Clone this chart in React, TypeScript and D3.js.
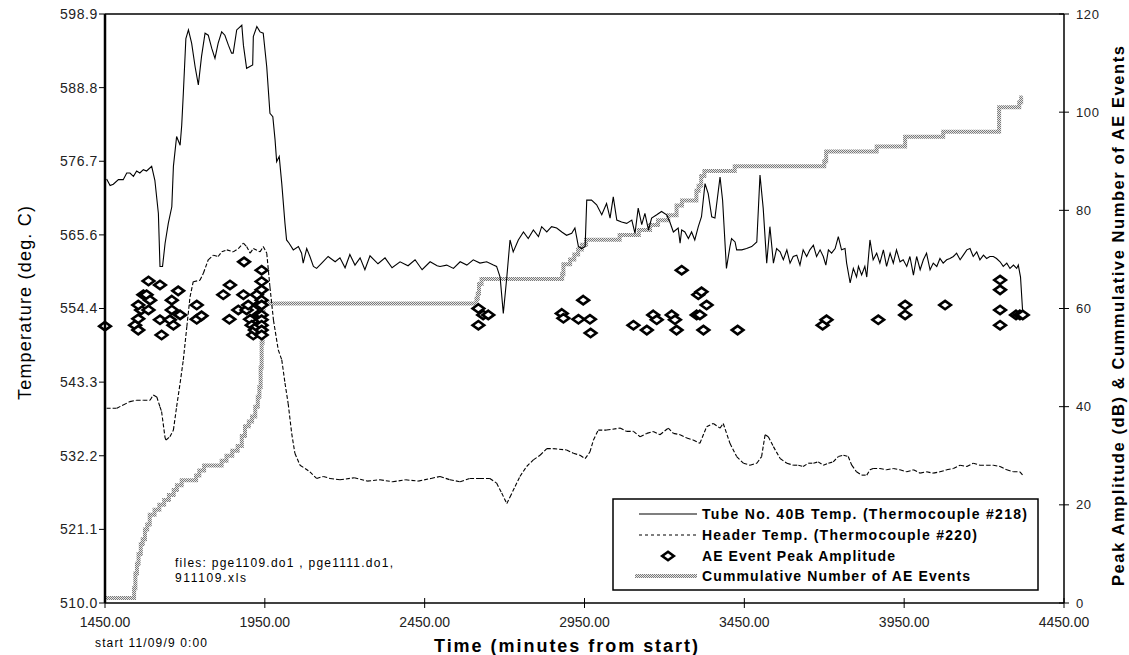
import React, { useEffect, useRef } from 'react'
import * as d3 from 'd3'

// Tube No. 40B temperature (thermocouple #218)
const tubeTime = [1455, 1466, 1476, 1492, 1507, 1518, 1528, 1539, 1549, 1559, 1570, 1580, 1596, 1606, 1617, 1622, 1630, 1638, 1648, 1659, 1664, 1674, 1685, 1690, 1695, 1703, 1711, 1721, 1732, 1742, 1752, 1763, 1773, 1784, 1794, 1804, 1815, 1825, 1836, 1846, 1851, 1862, 1878, 1883, 1893, 1912, 1914, 1925, 1935, 1945, 1956, 1966, 1975, 1982, 1987, 1995, 2003, 2013, 2018, 2026, 2039, 2055, 2065, 2070, 2081, 2091, 2102, 2112, 2128, 2148,
  2170, 2185, 2201, 2216, 2232, 2248, 2263, 2279, 2304, 2326, 2348, 2373, 2398, 2420, 2442, 2467, 2489,
  2498, 2519, 2540, 2561, 2582, 2602, 2623, 2644, 2665, 2675, 2686, 2696, 2707, 2717, 2727, 2743, 2759, 2774, 2790, 2806, 2816, 2832, 2847, 2863, 2879, 2894, 2910, 2920, 2931, 2941, 2952, 2957, 2972, 2988, 3004, 3019, 3030, 3040, 3051, 3066, 3082, 3098, 3108, 3118, 3129, 3139, 3150, 3160, 3176, 3191, 3207, 3217, 3228, 3243, 3249, 3254, 3264, 3275, 3285, 3295, 3306, 3316, 3327, 3337, 3348, 3358, 3374, 3382, 3394, 3405, 3410, 3421, 3426, 3442, 3457, 3473, 3489, 3499, 3509, 3520, 3530, 3541,
  3551, 3562, 3572, 3583, 3593, 3603, 3614, 3624, 3634, 3645, 3655, 3666, 3676, 3687, 3697, 3705, 3713, 3723, 3734, 3744, 3754, 3765, 3770, 3781, 3791, 3801, 3807, 3817, 3827, 3833, 3843, 3853, 3864, 3874, 3885, 3895, 3906, 3916, 3926, 3937, 3947, 3958, 3968, 3979, 3989, 4000, 4010, 4020, 4031, 4041, 4052, 4062, 4072, 4083, 4093, 4104, 4114, 4125, 4135, 4146, 4156, 4166, 4177, 4187, 4198, 4208, 4218, 4229, 4239, 4250, 4260, 4271, 4281, 4292, 4302, 4307, 4314, 4321]
const tubeTemp = [574.0, 573.0, 573.2, 573.9, 573.9, 574.9, 574.9, 574.4, 575.2, 574.9, 575.4, 575.2, 575.9, 573.8, 568.8, 560.8, 560.8, 564.3, 567.3, 569.8, 575.9, 580.4, 579.1, 582.1, 586.9, 595.2, 596.5, 594.5, 590.9, 588.2, 592.5, 596.0, 595.7, 593.7, 592.2, 594.5, 596.2, 595.7, 594.2, 593.0, 593.0, 596.5, 597.2, 594.2, 590.7, 591.2, 595.5, 597.0, 596.2, 596.0, 590.9, 583.9, 583.4, 579.9, 576.6, 577.4, 573.3, 567.3, 564.8, 564.3, 563.3, 563.8, 562.8, 561.3, 563.5, 562.3, 560.8, 560.5, 561.3, 562.3,
  561.5, 562.1, 560.6, 562.6, 561.0, 562.1, 560.3, 562.4, 561.2, 562.1, 560.6, 561.5, 560.9, 561.8, 560.3, 561.5, 560.9,
  560.8, 561.0, 560.5, 561.5, 561.0, 561.8, 561.3, 561.5, 561.0, 560.8, 559.2, 553.7, 559.2, 564.8, 563.0, 564.8, 566.0, 565.0, 566.3, 565.3, 566.8, 566.0, 566.8, 566.6, 566.0, 565.5, 565.8, 566.6, 563.8, 563.5, 563.8, 570.8, 570.8, 570.1, 568.6, 570.3, 568.1, 571.3, 567.8, 567.5, 567.3, 567.8, 565.8, 569.6, 567.1, 568.8, 566.3, 568.1, 568.6, 569.1, 568.6, 567.5, 566.0, 566.6, 564.3, 566.3, 566.0, 565.0, 566.0, 564.8, 566.8, 568.3, 573.3, 571.8, 568.3, 568.1, 574.3, 570.8, 560.5, 563.8, 565.0, 564.5, 563.3, 563.3, 563.5, 563.8, 564.5, 574.6, 569.6, 561.3, 566.8, 561.3,
  563.5, 563.0, 561.8, 563.3, 561.3, 562.3, 562.5, 561.0, 563.3, 562.3, 563.3, 564.0, 562.3, 563.3, 562.3, 561.0, 563.3, 562.8, 563.5, 565.3, 563.3, 563.5, 561.3, 558.3, 560.5, 559.2, 560.8, 559.5, 560.8, 559.2, 564.8, 561.8, 562.8, 561.3, 563.3, 560.8, 562.8, 561.3, 563.3, 561.5, 561.8, 560.8, 562.3, 559.5, 562.3, 560.3, 561.8, 562.8, 560.3, 561.3, 560.8, 562.0, 561.3, 561.8, 562.0, 562.3, 562.8, 561.8, 562.5, 563.3, 563.5, 562.3, 563.0, 561.8, 562.5, 562.0, 562.3, 562.3, 562.0, 561.5, 560.8, 561.3, 560.5, 561.0, 560.5, 561.0, 559.2, 553.7]

// Header temperature (thermocouple #220)
const headerTime = [1455, 1487, 1507, 1528, 1549, 1570, 1591, 1601, 1612, 1622, 1627, 1638, 1641, 1653, 1664, 1674, 1685, 1695, 1706, 1716, 1726, 1747, 1758, 1773, 1789, 1804, 1815, 1831, 1851, 1867, 1883, 1893, 1904, 1914, 1935, 1945, 1956, 1966, 1977, 1992, 2003, 2013, 2023, 2034, 2044, 2060, 2076, 2091, 2112, 2133, 2154,
  2185, 2230, 2270, 2310, 2350, 2390, 2430, 2470,
  2498, 2529, 2561, 2592, 2623, 2654, 2675, 2691, 2707, 2717, 2733, 2748, 2769, 2790, 2811, 2832, 2852, 2894, 2915, 2936, 2952, 2967, 2978, 2993, 3019, 3061, 3082, 3103, 3124, 3145, 3165, 3186, 3212, 3228, 3249, 3270, 3290, 3311, 3332, 3353, 3374, 3384, 3405, 3426, 3447, 3468, 3489, 3504, 3515, 3525, 3541,
  3562, 3583, 3603, 3619, 3634, 3650, 3666, 3681, 3697, 3713, 3728, 3744, 3760, 3775, 3786, 3801, 3817, 3833, 3843, 3853, 3874, 3895, 3916, 3937, 3958, 3979, 4000, 4020, 4041, 4062, 4083, 4104, 4125, 4146, 4166, 4187, 4208, 4229, 4250, 4271, 4292, 4312, 4321]
const headerTemp = [539.4, 539.4, 539.9, 540.4, 540.6, 540.6, 540.6, 541.4, 541.1, 539.6, 538.9, 534.9, 534.6, 535.1, 536.1, 539.6, 543.2, 546.7, 551.7, 556.2, 558.5, 558.7, 559.8, 561.8, 562.5, 562.3, 563.0, 563.3, 563.0, 563.5, 564.3, 563.8, 562.8, 563.5, 563.0, 563.8, 562.8, 557.7, 552.7, 548.2, 546.7, 543.2, 540.1, 535.6, 532.6, 530.8, 530.3, 529.8, 528.8, 529.1, 528.8,
  528.6, 528.9, 528.4, 528.6, 528.3, 528.6, 528.4, 528.8,
  529.1, 528.6, 528.3, 528.8, 528.8, 528.8, 528.1, 526.6, 525.0, 526.0, 527.6, 529.1, 530.6, 531.6, 532.3, 533.3, 533.3, 533.1, 532.6, 532.3, 531.8, 532.8, 534.6, 536.1, 536.1, 536.4, 535.9, 535.9, 535.1, 535.6, 535.9, 535.4, 536.4, 535.6, 535.4, 534.9, 534.6, 534.1, 536.6, 537.1, 536.4, 537.1, 534.1, 532.1, 531.1, 530.8, 531.1, 532.1, 535.4, 535.1, 533.6,
  531.8, 531.1, 530.8, 530.8, 530.6, 531.1, 531.1, 531.3, 530.8, 531.1, 531.3, 532.1, 532.3, 532.1, 530.8, 529.8, 529.3, 529.3, 530.1, 530.3, 530.3, 530.1, 530.3, 530.1, 529.8, 530.1, 529.6, 529.8, 529.6, 529.8, 530.1, 530.3, 530.8, 530.6, 531.1, 530.8, 530.8, 530.8, 530.6, 530.1, 529.8, 529.8, 529.3]

// AE event peak amplitude (dB, right axis)
const aeTime = [1450, 1544, 1554, 1554, 1563, 1554, 1570, 1586, 1580, 1591, 1586, 1622, 1622, 1627, 1653, 1659, 1659, 1664, 1679, 1685, 1737, 1737, 1752, 1820, 1841, 1839, 1867, 1883, 1885, 1893, 1898, 1904, 1909, 1914, 1919, 1925, 1930, 1930, 1925, 1940, 1940, 1940, 1940, 1940, 1940, 1940, 1940, 1940, 1940,
  2618, 2633, 2649, 2618, 2879, 2884, 2931, 2946, 2967, 2969, 3103, 3145, 3165, 3176, 3223, 3233, 3238, 3254, 3301, 3306, 3316, 3311, 3332, 3322, 3429, 3695, 3707, 3869, 3953, 3953, 4078, 4250, 4250, 4250, 4250, 4300, 4312, 4321]
const aeAmp = [56.4, 56.6, 55.6, 57.9, 59.7, 60.7, 62.8, 65.6, 62.8, 61.7, 59.7, 64.8, 57.7, 54.6, 57.7, 61.7, 59.7, 56.6, 63.6, 58.7, 60.7, 57.8, 58.5, 62.8, 64.8, 57.8, 59.7, 62.8, 69.5, 59.7, 60.7, 57.8, 56.6, 54.6, 55.6, 62.8, 60.7, 58.7, 56.3, 67.8, 65.5, 63.8, 61.7, 60.7, 58.7, 57.7, 56.6, 55.6, 54.6,
  60.0, 58.7, 58.7, 56.6, 59.0, 58.0, 57.8, 61.7, 57.8, 55.0, 56.6, 55.6, 58.7, 57.7, 58.7, 57.7, 55.6, 67.8, 58.7, 62.8, 63.4, 58.7, 60.7, 55.6, 55.6, 56.6, 57.7, 57.7, 60.7, 58.7, 60.7, 65.8, 63.8, 59.7, 56.6, 58.7, 58.7, 58.7]

// cumulative number of AE events (right axis, stepped)
const cumTime = [1450, 1541, 1545, 1550, 1555, 1562, 1568, 1575, 1582, 1590, 1605, 1620, 1635, 1650, 1665, 1675, 1690, 1735, 1745, 1760, 1815, 1830, 1848, 1865, 1878, 1888, 1900, 1910, 1920, 1928, 1933, 1937, 1940, 1943, 1946, 2612, 2616, 2620, 2628, 2880, 2884, 2905, 2918, 2930, 2942, 2955, 3060, 3120, 3155, 3180, 3212, 3238, 3255, 3300, 3307, 3315, 3325, 3420, 3700, 3706, 3864, 3953, 4072, 4247, 4310, 4316, 4321]
const cumCount = [1, 3, 6, 8, 10, 12, 13, 15, 16, 18, 19, 20, 21, 22, 23, 24, 25, 26, 27, 28, 29, 30, 31, 32, 34, 36, 37, 38, 40, 42, 44, 48, 53, 57, 61, 62, 63, 65, 66, 67, 69, 70, 71, 72, 73, 74, 75, 76, 77, 78, 79, 81, 82, 84, 85, 87, 88, 89, 90, 92, 93, 95, 96, 101, 102, 103, 103]

const leftTickLabels = ['510.0', '521.1', '532.2', '543.3', '554.4', '565.6', '576.7', '588.8', '598.9']
const rightTicks = [0, 20, 40, 60, 80, 100, 120]
const xTicks = [1450, 1950, 2450, 2950, 3450, 3950, 4450]

const legendLabels = [
  'Tube No. 40B Temp. (Thermocouple #218)',
  'Header Temp. (Thermocouple #220)',
  'AE Event Peak Amplitude',
  'Cummulative Number of AE Events',
]

const FONT = "'Liberation Sans', Arial, sans-serif"

export default function App() {
  const ref = useRef(null)

  useEffect(() => {
    const svg = d3.select(ref.current)
    svg.selectAll('*').remove()

    var margin = { left: 105, right: 65, top: 14, bottom: 52 }
    var width = 1129 - margin.left - margin.right
    var height = 655 - margin.top - margin.bottom

    var x = d3.scaleLinear().domain([1450, 4450]).range([margin.left, margin.left + width])
    var yL = d3.scaleLinear().domain([510, 598.9]).range([margin.top + height, margin.top])
    var yR = d3.scaleLinear().domain([0, 120]).range([margin.top + height, margin.top])

    // checkered fill used for the cumulative line
    var defs = svg.append('defs')
    var pat = defs.append('pattern').attr('id', 'checker').attr('width', 2).attr('height', 2)
      .attr('patternUnits', 'userSpaceOnUse')
    pat.append('rect').attr('width', 2).attr('height', 2).attr('fill', '#e6e6e6')
    pat.append('rect').attr('width', 1).attr('height', 1).attr('fill', '#7a7a7a')
    pat.append('rect').attr('x', 1).attr('y', 1).attr('width', 1).attr('height', 1).attr('fill', '#7a7a7a')

    var g = svg.append('g')

    // cumulative stepped line
    var cumData = cumTime.map((t, i) => [t, cumCount[i]])
    var cumLine = d3.line().x(d => x(d[0])).y(d => yR(d[1])).curve(d3.curveStepAfter)
    g.append('path').datum(cumData).attr('fill', 'none').attr('stroke', 'url(#checker)')
      .attr('stroke-width', 4).attr('d', cumLine)

    // tube temp, solid
    var tubeData = tubeTime.map((t, i) => [t, tubeTemp[i]])
    var tempLine = d3.line().x(d => x(d[0])).y(d => yL(d[1]))
    g.append('path').datum(tubeData).attr('fill', 'none').attr('stroke', '#000')
      .attr('stroke-width', 1.1).attr('d', tempLine)

    // header temp, dashed: one segment at a time like the old spreadsheet render
    var headerData = headerTime.map((t, i) => [t, headerTemp[i]])
    for (var i = 0; i < headerData.length - 1; i++) {
      g.append('line')
        .attr('x1', x(headerData[i][0])).attr('y1', yL(headerData[i][1]))
        .attr('x2', x(headerData[i + 1][0])).attr('y2', yL(headerData[i + 1][1]))
        .attr('stroke', '#000').attr('stroke-width', 1.1).attr('stroke-dasharray', '4,2')
    }

    // AE events, diamonds
    var diamond = 'M0,-4.2L5.8,0L0,4.2L-5.8,0Z'
    g.selectAll('.ae').data(aeTime.map((t, i) => [t, aeAmp[i]])).enter().append('path')
      .attr('class', 'ae')
      .attr('d', diamond)
      .attr('transform', d => 'translate(' + x(d[0]) + ',' + yR(d[1]) + ')')
      .attr('fill', '#fff').attr('stroke', '#000').attr('stroke-width', 2.6)

    // frame
    var x0 = margin.left, x1 = margin.left + width, y0 = margin.top, y1 = margin.top + height
    g.append('line').attr('x1', x0).attr('x2', x1).attr('y1', y0).attr('y2', y0).attr('stroke', '#000').attr('stroke-width', 1.5)
    g.append('line').attr('x1', x0).attr('x2', x1).attr('y1', y1).attr('y2', y1).attr('stroke', '#000').attr('stroke-width', 1.5)
    g.append('line').attr('x1', x1).attr('x2', x1).attr('y1', y0).attr('y2', y1).attr('stroke', '#000').attr('stroke-width', 1.5)
    g.append('line').attr('x1', x0).attr('x2', x0).attr('y1', y0).attr('y2', y1).attr('stroke', '#000').attr('stroke-width', 2.5)

    // left axis ticks + labels
    var step = (598.9 - 510) / (leftTickLabels.length - 1)
    leftTickLabels.forEach((lab, k) => {
      var yy = yL(510 + k * step)
      g.append('line').attr('x1', x0 - 6).attr('x2', x0).attr('y1', yy).attr('y2', yy).attr('stroke', '#000')
      g.append('text').attr('x', x0 - 7).attr('y', yy).attr('dy', '0.35em').attr('text-anchor', 'end')
        .attr('font-family', FONT).attr('font-size', 14).attr('letter-spacing', 0.6).attr('fill', '#222').text(lab)
    })

    // right axis
    rightTicks.forEach(v => {
      var yy = yR(v)
      g.append('line').attr('x1', x1 - 5).attr('x2', x1 + 5).attr('y1', yy).attr('y2', yy).attr('stroke', '#000')
      g.append('text').attr('x', x1 + 12).attr('y', yy).attr('dy', '0.35em')
        .attr('font-family', FONT).attr('font-size', 13).attr('letter-spacing', 0.6).attr('fill', '#222').text(v)
    })

    // x axis
    xTicks.forEach(v => {
      var xx = x(v)
      g.append('line').attr('x1', xx).attr('x2', xx).attr('y1', y1 - 5).attr('y2', y1 + 5).attr('stroke', '#000')
      g.append('text').attr('x', xx).attr('y', 622).attr('dy', '0.35em').attr('text-anchor', 'middle')
        .attr('font-family', FONT).attr('font-size', 14).attr('fill', '#222').text(d3.format('.2f')(v))
    })

    // titles
    g.append('text').attr('x', 566).attr('y', 652).attr('text-anchor', 'middle')
      .attr('font-family', FONT).attr('font-weight', 'bold').attr('font-size', 18)
      .attr('textLength', 264).attr('lengthAdjust', 'spacing').text('Time (minutes from start)')
    g.append('text').attr('x', 95).attr('y', 647)
      .attr('font-family', FONT).attr('font-size', 12).attr('textLength', 112).attr('lengthAdjust', 'spacing')
      .text('start 11/09/9 0:00')
    g.append('text').attr('transform', 'translate(31,303) rotate(-90)').attr('text-anchor', 'middle')
      .attr('font-family', FONT).attr('font-size', 18).attr('textLength', 194).attr('lengthAdjust', 'spacing')
      .text('Temperature (deg. C)')
    g.append('text').attr('transform', 'translate(1124,316) rotate(-90)').attr('text-anchor', 'middle')
      .attr('font-family', FONT).attr('font-weight', 'bold').attr('font-size', 16.5)
      .attr('textLength', 540).attr('lengthAdjust', 'spacing')
      .text('Peak Amplitude (dB) & Cummulative Number of AE Events')

    // file note
    g.append('text').attr('x', 175).attr('y', 567).attr('font-family', FONT).attr('font-size', 12)
      .attr('textLength', 218).attr('lengthAdjust', 'spacing').text('files: pge1109.do1 , pge1111.do1,')
    g.append('text').attr('x', 175).attr('y', 582).attr('font-family', FONT).attr('font-size', 12)
      .attr('textLength', 71).attr('lengthAdjust', 'spacing').text('911109.xls')

    // legend
    var lg = g.append('g')
    lg.append('rect').attr('x', 613).attr('y', 499).attr('width', 425).attr('height', 91)
      .attr('fill', '#fff').attr('stroke', '#000').attr('stroke-width', 1.5)
    var rows = [514, 535, 556, 576]
    var lens = [325, 275, 193, 268]
    lg.append('line').attr('x1', 639).attr('x2', 697).attr('y1', rows[0]).attr('y2', rows[0])
      .attr('stroke', '#000').attr('stroke-width', 1.1)
    lg.append('line').attr('x1', 639).attr('x2', 697).attr('y1', rows[1]).attr('y2', rows[1])
      .attr('stroke', '#000').attr('stroke-width', 1.1).attr('stroke-dasharray', '3,3')
    lg.append('path').attr('d', diamond).attr('transform', 'translate(668,' + rows[2] + ')')
      .attr('fill', '#fff').attr('stroke', '#000').attr('stroke-width', 2.6)
    lg.append('line').attr('x1', 635).attr('x2', 697).attr('y1', rows[3]).attr('y2', rows[3])
      .attr('stroke', 'url(#checker)').attr('stroke-width', 4)
    legendLabels.forEach((lab, k) => {
      lg.append('text').attr('x', 702).attr('y', rows[k]).attr('dy', '0.36em')
        .attr('font-family', FONT).attr('font-weight', 'bold').attr('font-size', 14)
        .attr('textLength', lens[k]).attr('lengthAdjust', 'spacing').text(lab)
    })
  }, [])

  return (
    <svg ref={ref} width={1129} height={655} style={{ display: 'block', position: 'absolute', left: 0, top: 0, background: '#fff' }}></svg>
  )
}
